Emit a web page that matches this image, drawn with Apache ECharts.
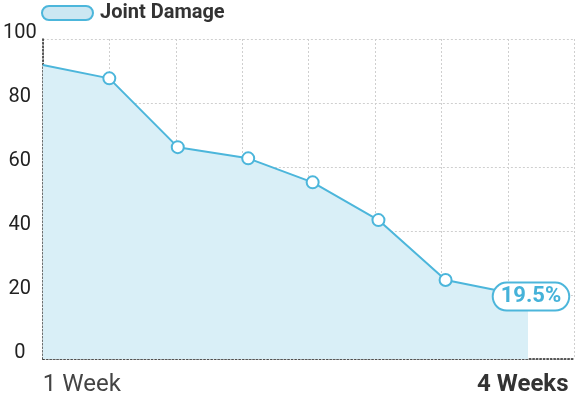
<!DOCTYPE html>
<html>
<head>
<meta charset="utf-8">
<script src="https://cdn.jsdelivr.net/npm/echarts@6/dist/echarts.min.js"></script>
<style>
  html, body { margin: 0; padding: 0; background: #fff; }
  #main { width: 576px; height: 399px; }
</style>
</head>
<body>
<div id="main"></div>
<script>
// week position (in grid units) and joint damage %
const xPos = [0, 1.0, 2.03, 3.09, 4.06, 5.05, 6.06, 7.3];
const damage = [91.9, 87.7, 66.2, 62.7, 55.2, 43.4, 24.7, 19.5];
const xTickLabels = { 0: '1 Week', 8: '4 Weeks' };
const seriesName = 'Joint Damage';

const lineColor = '#4cb6db';
const fillColor = '#d9eff7';

window.onload = function () {
  const chartDom = document.getElementById('main');
  const myChart = echarts.init(chartDom);

  const seriesData = xPos.map(function (x, i) {
    const item = { value: [x, damage[i]] };
    if (i === 0) item.symbol = 'none';
    if (i === xPos.length - 1) {
      item.label = {
        show: true,
        position: 'inside',
        offset: [3, 0],
        formatter: function (p) { return p.value[1] + '%'; },
        fontFamily: 'Roboto',
        fontSize: 22,
        fontWeight: 'bold',
        color: '#45b2d9',
        backgroundColor: '#fff',
        borderColor: lineColor,
        borderWidth: 2,
        borderRadius: 14,
        padding: [3, 7, 1, 7]
      };
    }
    return item;
  });

  const option = {
    animation: false,
    textStyle: { fontFamily: 'Roboto' },
    legend: {
      left: 41,
      top: 3,
      padding: 0,
      itemWidth: 51,
      itemHeight: 14,
      itemGap: 8,
      data: [{
        name: seriesName,
        icon: 'path://M7,0 H44 A7,7 0 0 1 44,14 H7 A7,7 0 0 1 7,0 Z',
        itemStyle: { color: '#cce7f2', borderColor: lineColor, borderWidth: 2 }
      }],
      textStyle: { fontFamily: 'Roboto', fontSize: 20, fontWeight: 'bold', color: '#333', padding: [0, 0, 0, 2] }
    },
    grid: { left: 40.5, right: 1.5, top: 39, bottom: 40, containLabel: false },
    xAxis: {
      type: 'value',
      min: 0,
      max: 8,
      interval: 1,
      axisLine: { show: true, lineStyle: { color: '#222', width: 1.5, type: [1.5, 2] } },
      axisTick: { show: false },
      splitLine: { show: true, lineStyle: { color: '#cfcfcf', width: 1, type: [2, 2] } },
      axisLabel: {
        margin: 14,
        alignMinLabel: 'left',
        alignMaxLabel: 'right',
        formatter: function (v) {
          if (v === 8) return '{b|' + xTickLabels[v] + '}';
          return xTickLabels[v] || '';
        },
        fontFamily: 'Roboto',
        fontSize: 24,
        color: '#444',
        rich: {
          b: { fontFamily: 'Roboto', fontSize: 24, fontWeight: 'bold', color: '#333', padding: [0, 6, 0, 0] }
        }
      }
    },
    yAxis: {
      type: 'value',
      min: 0,
      max: 100,
      interval: 20,
      axisLine: { show: true, lineStyle: { color: '#222', width: 1.5, type: [1.5, 2] } },
      axisTick: { show: false },
      splitLine: { show: true, lineStyle: { color: '#cfcfcf', width: 1, type: [2, 2] } },
      axisLabel: {
        margin: 23,
        align: 'center',
        verticalAlign: 'bottom',
        lineHeight: 12,
        fontFamily: 'Roboto',
        fontSize: 20,
        color: '#222'
      }
    },
    series: [{
      name: seriesName,
      type: 'line',
      data: seriesData,
      symbol: 'circle',
      symbolSize: 12,
      showAllSymbol: true,
      lineStyle: { color: lineColor, width: 2 },
      itemStyle: { color: '#fff', borderColor: lineColor, borderWidth: 2 },
      areaStyle: { color: fillColor, opacity: 1 },
      emphasis: { disabled: true }
    }]
  };

  option && myChart.setOption(option);
};
</script>
</body>
</html>
